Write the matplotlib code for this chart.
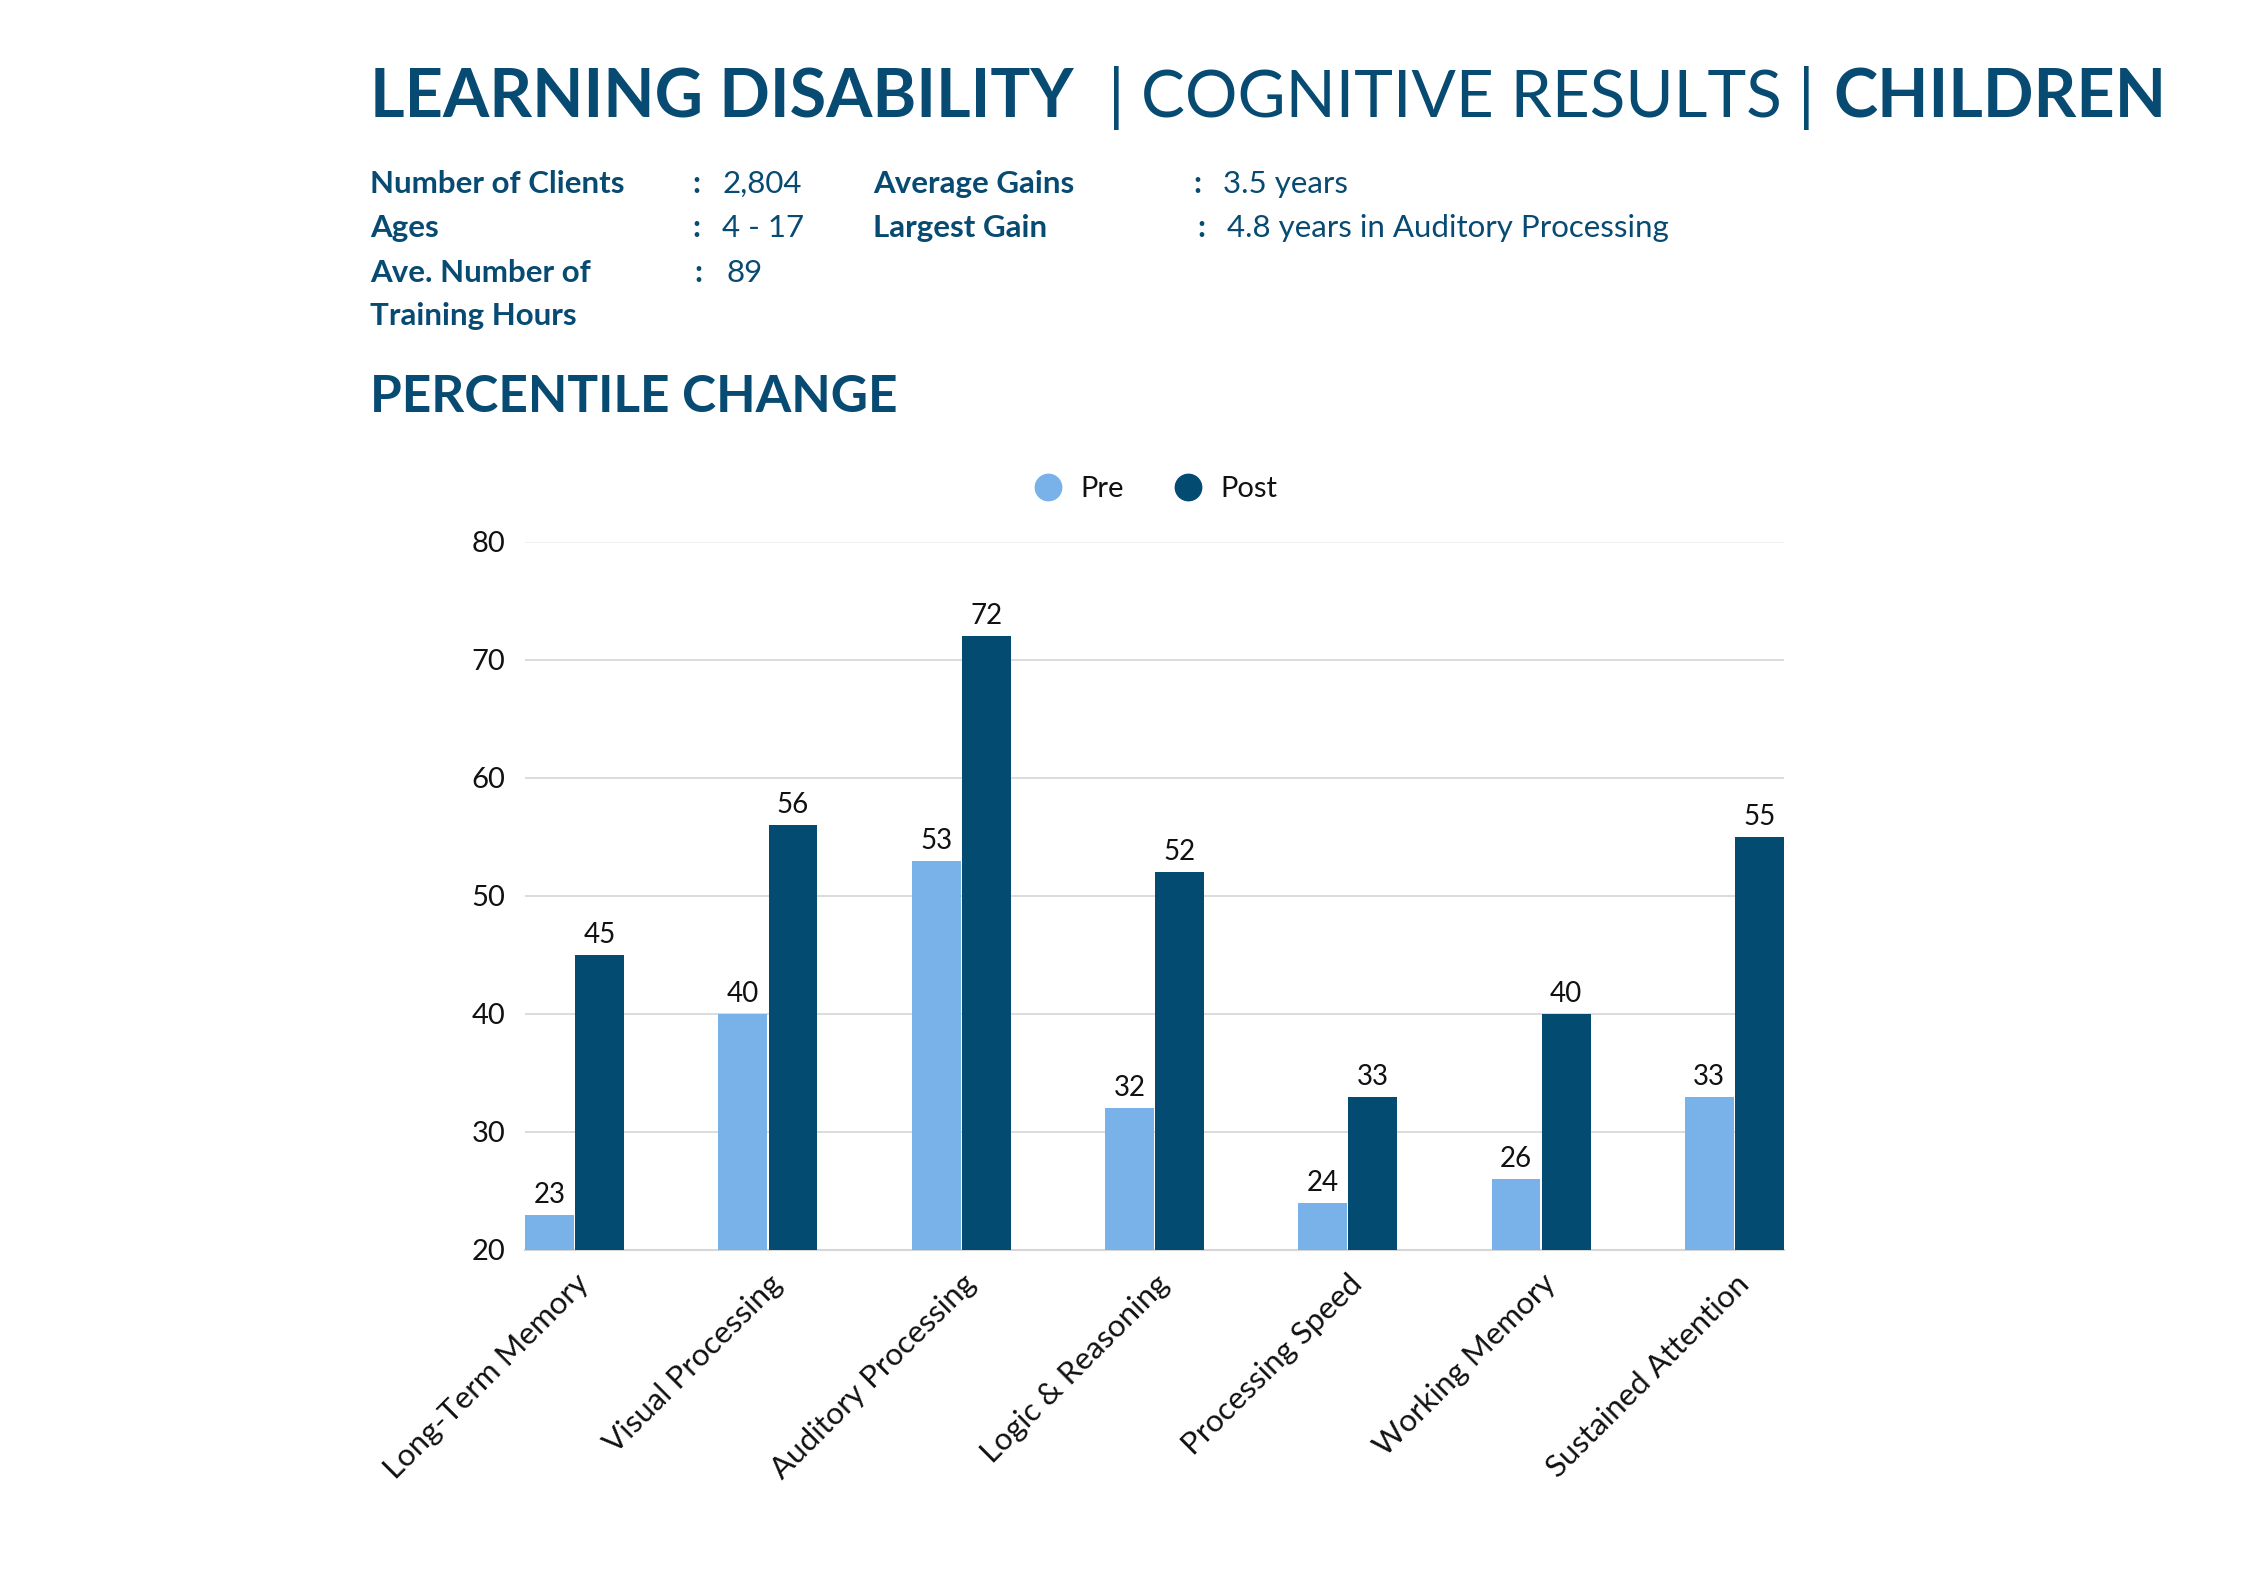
import numpy as np
import matplotlib
matplotlib.use('Agg')
import matplotlib.pyplot as plt
from matplotlib.lines import Line2D

categories = ['Long-Term Memory', 'Visual Processing', 'Auditory Processing',
              'Logic & Reasoning', 'Processing Speed', 'Working Memory',
              'Sustained Attention']
pre = [23, 40, 53, 32, 24, 26, 33]
post = [45, 56, 72, 52, 33, 40, 55]
y_ticks = [20, 30, 40, 50, 60, 70, 80]

info_left = [('Number of Clients', '2,804'), ('Ages', '4 - 17'),
             ('Ave. Number of\nTraining Hours', '89')]
info_right = [('Average Gains', '3.5 years'),
              ('Largest Gain', '4.8 years in Auditory Processing')]

NAVY = '#074A72'
PRE_C = '#79B2E8'
POST_C = '#044B72'
FONT = 'Lato'

W, H = 2250, 1591
fig = plt.figure(figsize=(W / 100, H / 100), dpi=100)
fig.patch.set_facecolor('white')
R = fig.canvas.get_renderer()


def fx(px):
    return px / W


def fy(py):
    return 1 - py / H


def fit(x, y, s, width, **kw):
    t = fig.text(fx(x), fy(y), s, fontsize=20, family=FONT, **kw)
    w = t.get_window_extent(R).width
    t.set_fontsize(20 * width / w)
    return t


# title, pieces with mixed weights
t1 = fit(370, 118, 'LEARNING DISABILITY', 703, fontweight='bold',
         color=NAVY, va='baseline')
ts = t1.get_fontsize()
fig.text(fx(1108), fy(118), '|', fontsize=ts, family=FONT,
         color=NAVY, va='baseline')
fit(1141, 118, 'COGNITIVE RESULTS', 640, color=NAVY, va='baseline')
fig.text(fx(1798), fy(118), '|', fontsize=ts, family=FONT,
         color=NAVY, va='baseline')
fig.text(fx(2167), fy(118), 'CHILDREN', fontsize=ts, family=FONT,
         fontweight='bold', color=NAVY, va='baseline', ha='right')

# info block
fs = 22.5
rows_y = [184, 228]
for (lab, val), yy in zip(info_left[:2], rows_y):
    fig.text(fx(370), fy(yy), lab, fontsize=fs, family=FONT, fontweight='bold',
             color=NAVY, va='center')
    fig.text(fx(692), fy(yy), ':', fontsize=fs, family=FONT, fontweight='bold',
             color=NAVY, va='center')
    fig.text(fx(722), fy(yy), val, fontsize=fs, family=FONT, color=NAVY,
             va='center')
lab, val = info_left[2]
fig.text(fx(370), fy(273), lab.split('\n')[0], fontsize=fs, family=FONT,
         fontweight='bold', color=NAVY, va='center')
fig.text(fx(370), fy(316), lab.split('\n')[1], fontsize=fs, family=FONT,
         fontweight='bold', color=NAVY, va='center')
fig.text(fx(694), fy(273), ':', fontsize=fs, family=FONT, fontweight='bold',
         color=NAVY, va='center')
fig.text(fx(726), fy(273), val, fontsize=fs, family=FONT, color=NAVY,
         va='center')
for (lab, val), yy, cx in zip(info_right, rows_y, [1193, 1197]):
    fig.text(fx(873), fy(yy), lab, fontsize=fs, family=FONT, fontweight='bold',
             color=NAVY, va='center')
    fig.text(fx(cx), fy(yy), ':', fontsize=fs, family=FONT, fontweight='bold',
             color=NAVY, va='center')
    fig.text(fx(cx + 30), fy(yy), val, fontsize=fs, family=FONT, color=NAVY,
             va='center')

fit(370, 397, 'PERCENTILE CHANGE', 528, fontweight='bold', color=NAVY,
    va='center')

# chart
ax = fig.add_axes([fx(525), fy(1250), fx(1784 - 525), (1250 - 542) / H])
x = np.arange(len(categories))
bw = 0.253
off = 0.13
b1 = ax.bar(x - off, pre, bw, color=PRE_C, zorder=3)
b2 = ax.bar(x + off, post, bw, color=POST_C, zorder=3)
ax.bar_label(b1, labels=[str(v) for v in pre], padding=5, fontsize=20,
             family=FONT, color='#111111')
ax.bar_label(b2, labels=[str(v) for v in post], padding=5, fontsize=20,
             family=FONT, color='#111111')
ax.set_ylim(20, 80)
ax.set_xlim(-off - bw / 2, len(categories) - 1 + off + bw / 2)
ax.set_yticks(y_ticks)
ax.set_yticklabels([str(v) for v in y_ticks], fontsize=21, family=FONT,
                   color='#111111')
ax.set_xticks(x)
ax.set_xticklabels(categories, rotation=45, ha='right', va='top',
                   rotation_mode='anchor', fontsize=22.5, family=FONT,
                   color='#111111')
ax.tick_params(axis='both', length=0)
ax.tick_params(axis='y', pad=14)
ax.tick_params(axis='x', pad=14)
for s in ['top', 'right', 'left']:
    ax.spines[s].set_visible(False)
ax.spines['bottom'].set_color('#D6D6D6')
ax.spines['bottom'].set_linewidth(1.5)
ax.yaxis.grid(True, color='#D6D6D6', lw=1.2, zorder=0)
ax.yaxis.get_gridlines()[-1].set_color('#EEEEEE')
ax.set_axisbelow(True)

handles = [Line2D([], [], ls='none', marker='o', ms=19, color=PRE_C),
           Line2D([], [], ls='none', marker='o', ms=19, color=POST_C)]
fig.legend(handles, ['Pre', 'Post'], loc='center', ncol=2, frameon=False,
           bbox_to_anchor=(fx(1148), fy(489)), prop={'family': FONT, 'size': 21},
           handletextpad=0.1, columnspacing=1.2, labelcolor='#111111')

fig.savefig('out.png', dpi=100, facecolor='white')
